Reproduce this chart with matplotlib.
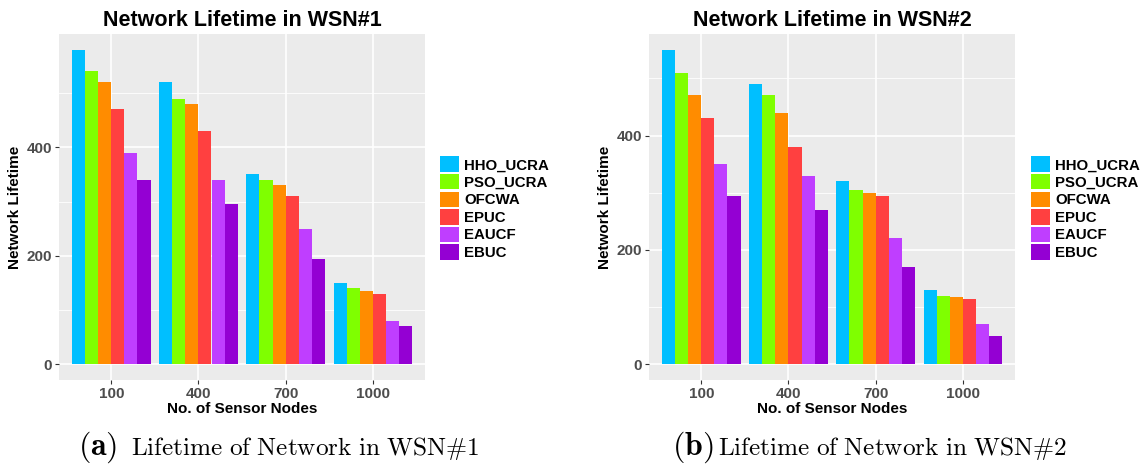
import numpy as np
import matplotlib
matplotlib.use("Agg")
import matplotlib.pyplot as plt
from matplotlib.patches import Patch

plt.rcParams['font.family'] = ['Liberation Sans', 'DejaVu Sans']
plt.rcParams['mathtext.fontset'] = 'cm'

# data
node_counts = ["100", "400", "700", "1000"]
protocols = ["HHO_UCRA", "PSO_UCRA", "OFCWA", "EPUC", "EAUCF", "EBUC"]
colors = ["#00BFFF", "#7FFF00", "#FF8C00", "#FF4040", "#BF3EFF", "#9400D3"]

# rows = protocols, cols = node counts
wsn1 = [
    [580, 520, 350, 150],
    [540, 490, 340, 140],
    [520, 480, 330, 135],
    [470, 430, 310, 130],
    [390, 340, 250, 80],
    [340, 295, 195, 70],
]
wsn2 = [
    [550, 490, 320, 130],
    [510, 470, 305, 120],
    [470, 440, 300, 118],
    [430, 380, 295, 115],
    [350, 330, 220, 70],
    [295, 270, 170, 50],
]

titles = ["Network Lifetime in WSN#1", "Network Lifetime in WSN#2"]
cap_tags = [r"$\mathbf{(a)}$", r"$\mathbf{(b)}$"]
cap_texts = [r"$\mathrm{Lifetime\ of\ Network\ in\ WSN\#1}$",
             r"$\mathrm{Lifetime\ of\ Network\ in\ WSN\#2}$"]

W, H = 1143, 471
fig = plt.figure(figsize=(W / 100, H / 100), dpi=100)

panel_left = [59, 649]
panel_w = 366
panel_top, panel_bottom = 34, 380
legend_x = [440, 1031]
caption_x = [78, 672]
caption_text_x = [131, 718]


def draw_panel(k, data):
    ax = fig.add_axes([panel_left[k] / W, 1 - panel_bottom / H,
                       panel_w / W, (panel_bottom - panel_top) / H])
    ax.set_facecolor("#EBEBEB")
    data = np.array(data)
    n = len(protocols)
    bw = 0.9 / n
    x = np.arange(len(node_counts))
    for i in range(n):
        ax.bar(x + (i - (n - 1) / 2) * bw, data[i], width=bw, color=colors[i],
               linewidth=0, zorder=3)
    ymax = data.max()
    ax.set_ylim(-0.05 * ymax, 1.05 * ymax)
    ax.set_xlim(-0.6, len(node_counts) - 0.4)
    ax.set_xticks(x)
    ax.set_xticklabels(node_counts)
    ax.set_yticks(np.arange(0, ymax + 1, 200))
    ax.set_yticks(np.arange(100, ymax + 1, 200), minor=True)
    ax.grid(True, which="major", color="white", linewidth=1.2, zorder=0)
    ax.grid(True, which="minor", axis="y", color="white", linewidth=0.6, zorder=0)
    for s in ax.spines.values():
        s.set_visible(False)
    ax.tick_params(which="major", length=3, color="#333333", labelsize=11,
                   labelcolor="#4D4D4D", pad=2)
    ax.tick_params(which="minor", length=0)
    for lab in ax.get_xticklabels() + ax.get_yticklabels():
        lab.set_fontweight("bold")
    ax.set_title(titles[k], fontsize=15.5, fontweight="bold", pad=6)
    ax.set_xlabel("No. of Sensor Nodes", fontsize=11, fontweight="bold", labelpad=1)
    ax.set_ylabel("Network Lifetime", fontsize=11, fontweight="bold", labelpad=3)

    handles = [Patch(facecolor=c, edgecolor="none") for c in colors]
    fig.legend(handles, protocols, loc="upper left",
               bbox_to_anchor=((legend_x[k] - 11) / W, 1 - 146 / H),
               frameon=False, prop={"weight": "bold", "size": 10.8},
               handlelength=1.3, handleheight=1.2, handletextpad=0.35,
               labelspacing=0.12, borderpad=0.2)
    fig.text(caption_x[k] / W, 1 - 455 / H, cap_tags[k], fontsize=23,
             va="baseline", ha="left")
    fig.text(caption_text_x[k] / W, 1 - 455 / H, cap_texts[k], fontsize=18.2,
             va="baseline", ha="left")


draw_panel(0, wsn1)
draw_panel(1, wsn2)

fig.savefig("out.png", dpi=100)
